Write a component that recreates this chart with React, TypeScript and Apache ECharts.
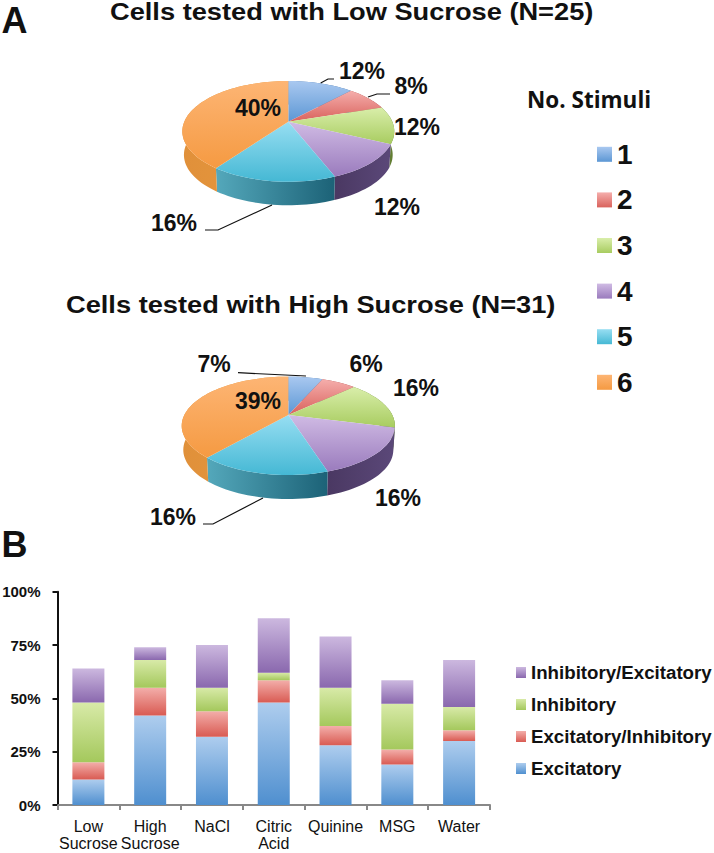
import React, { useEffect, useRef } from "react";
import * as echarts from "echarts";

const FONT = '"Liberation Sans", Arial, sans-serif';

// Pie data (percent of cells per number of stimuli)
const stimuliNames = ["1", "2", "3", "4", "5", "6"];
const lowSucrosePct = [12, 8, 12, 12, 16, 40];
const highSucrosePct = [6.45, 6.45, 16.13, 16.13, 16.13, 38.71];
const lowSucroseLabels = ["12%", "8%", "12%", "12%", "16%", "40%"];
const highSucroseLabels = ["7%", "6%", "16%", "16%", "16%", "39%"];

// Bar data
const categories = ["Low\nSucrose", "High\nSucrose", "NaCl", "Citric\nAcid", "Quinine", "MSG", "Water"];
const excitatory = [12, 42, 32, 48, 28, 19, 30];
const excitatoryInhibitory = [8, 13, 12, 10.5, 9, 7, 5];
const inhibitory = [28, 13, 11, 3.5, 18, 21.5, 11];
const inhibitoryExcitatory = [16, 6, 20, 25.5, 24, 11, 22];
const yTicks = [0, 25, 50, 75, 100];

// Slice colours: [top-face upper, top-face lower, side left, side right]
const sliceColors = [
  ["#a9c8f0", "#5c97d4", "#4f7fb5", "#3f6c9f"],
  ["#f5aeac", "#d9625c", "#b04a45", "#9c3f3b"],
  ["#d9eeaa", "#a8cc60", "#6f8a3a", "#5f7a32"],
  ["#d0bbe4", "#9a7bbd", "#4a3862", "#5b4879"],
  ["#97def2", "#45b8d4", "#54a8bb", "#1c6277"],
  ["#fdb574", "#f59a42", "#e0903a", "#e89a3e"],
];

// Projection geometry of the two perspective pies
const pies = [
  { cx: 288.3, cy: 121.7, a: 104, b: 48.5, k: 0.192, depth: 23.5 },
  { cx: 288.3, cy: 415, a: 104, b: 46.8, k: 0.22, depth: 24 },
];
const lowerScale = 0.985;

const project = (pie: any, theta: number, drop = 0, sx = 1) => {
  const x = Math.sin(theta);
  const y = -Math.cos(theta);
  const w = 1 - pie.k * y;
  return [pie.cx + (sx * pie.a * x) / w, pie.cy + (pie.b * y) / w + drop];
};

const toTheta = (pct: number) => (pct / 100) * Math.PI * 2;

const renderSlice = (seriesIndex: number) => (_params: any, api: any) => {
  const pie = pies[api.value(0)];
  const start = toTheta(api.value(1));
  const end = toTheta(api.value(1) + api.value(2));
  const steps = Math.max(4, Math.ceil((end - start) / 0.04));
  const arc: number[][] = [];
  const lower: number[][] = [];
  for (let i = 0; i <= steps; i++) {
    const t = start + ((end - start) * i) / steps;
    arc.push(project(pie, t));
    lower.push(project(pie, t, pie.depth, lowerScale));
  }
  const c = sliceColors[seriesIndex];
  return {
    type: "group",
    children: [
      {
        type: "polygon",
        z2: 1,
        shape: { points: [...arc, ...lower.slice().reverse()] },
        style: {
          fill: new echarts.graphic.LinearGradient(0, 0, 1, 0, [
            { offset: 0, color: c[2] },
            { offset: 1, color: c[3] },
          ]),
        },
      },
      {
        type: "polygon",
        z2: 5,
        shape: { points: [[pie.cx, pie.cy], ...arc] },
        style: {
          fill: new echarts.graphic.LinearGradient(0, 0, 0, 1, [
            { offset: 0, color: c[0] },
            { offset: 1, color: c[1] },
          ]),
        },
      },
    ],
  };
};

const cumulative = (values: number[], idx: number) =>
  values.slice(0, idx).reduce((s, v) => s + v, 0);

function vGrad(top: string, bottom: string) {
  return new echarts.graphic.LinearGradient(0, 0, 0, 1, [
    { offset: 0, color: top },
    { offset: 1, color: bottom },
  ]);
}

const pieSeries = stimuliNames.map((name, i) => ({
  type: "custom",
  name,
  coordinateSystem: "none",
  silent: true,
  renderItem: renderSlice(i),
  itemStyle: { color: vGrad(sliceColors[i][0], sliceColors[i][1]) },
  data: [
    [0, cumulative(lowSucrosePct, i), lowSucrosePct[i]],
    [1, cumulative(highSucrosePct, i), highSucrosePct[i]],
  ],
}));

const barSeries = [
  { name: "Excitatory", data: excitatory, top: "#aecdee", bottom: "#4f8fcf" },
  { name: "Excitatory/Inhibitory", data: excitatoryInhibitory, top: "#f3aeaa", bottom: "#d95b53" },
  { name: "Inhibitory", data: inhibitory, top: "#d8eaa8", bottom: "#a4c85c" },
  { name: "Inhibitory/Excitatory", data: inhibitoryExcitatory, top: "#ccb8df", bottom: "#8a68ae" },
].map((s) => ({
  type: "bar",
  name: s.name,
  stack: "total",
  barWidth: 32,
  silent: true,
  data: s.data,
  itemStyle: { color: vGrad(s.top, s.bottom) },
}));

const pctText = (text: string, cx: number, cy: number) => ({
  type: "text",
  x: cx,
  y: cy,
  z: 20,
  style: {
    text,
    fill: "#111",
    font: `bold 23px ${FONT}`,
    align: "center",
    verticalAlign: "middle",
  },
});

const titleText = (text: string, x: number, y: number) => ({
  type: "text",
  x,
  y,
  scaleX: 1.135,
  z: 20,
  style: {
    text,
    fill: "#111",
    font: `bold 24px ${FONT}`,
    align: "left",
    verticalAlign: "middle",
  },
});

const leader = (points: number[][]) => ({
  type: "polyline",
  z: 20,
  shape: { points },
  style: { stroke: "#111", lineWidth: 1.2, fill: "none" },
});

const option: any = {
  animation: false,
  backgroundColor: "#fff",
  title: [
    { text: "A", left: -3.5, top: -3, textStyle: { fontFamily: FONT, fontWeight: "bold", fontSize: 36, color: "#111" } },
    { text: "B", left: -3.5, top: 521, textStyle: { fontFamily: FONT, fontWeight: "bold", fontSize: 36, color: "#111" } },
    { text: "No. Stimuli", left: 522, top: 83, textStyle: { fontFamily: '"Open Sans", sans-serif', fontWeight: "bold", fontSize: 22.5, color: "#111" } },
  ],
  grid: { left: 57.5, right: 224, top: 591.7, bottom: 48, containLabel: false, outerBoundsMode: "none" },
  xAxis: {
    type: "category",
    data: categories,
    axisLine: { lineStyle: { color: "#888", width: 2 } },
    axisTick: { show: true, length: 5, alignWithLabel: false, lineStyle: { color: "#888", width: 2 } },
    axisLabel: { color: "#111", fontFamily: FONT, fontSize: 16, margin: 13, lineHeight: 17, interval: 0, hideOverlap: false },
  },
  yAxis: {
    type: "value",
    min: yTicks[0],
    max: yTicks[yTicks.length - 1],
    interval: 25,
    splitLine: { show: false },
    axisLine: { show: true, lineStyle: { color: "#111", width: 2 } },
    axisTick: { show: true, length: 5, lineStyle: { color: "#111", width: 2 } },
    axisLabel: { color: "#111", fontFamily: FONT, fontWeight: "bold", fontSize: 15, margin: 17, formatter: "{value}%" },
  },
  legend: [
    {
      data: stimuliNames,
      orient: "vertical",
      left: 592,
      top: 133,
      itemWidth: 15,
      itemHeight: 15,
      itemGap: 13,
      selectedMode: false,
      icon: "rect",
      textStyle: { fontFamily: FONT, fontWeight: "bold", fontSize: 28, color: "#111", lineHeight: 32.6 },
    },
    {
      data: barSeries.map((s) => s.name).reverse(),
      orient: "vertical",
      left: 511,
      top: 656.5,
      itemWidth: 10,
      itemHeight: 11,
      itemGap: 10,
      selectedMode: false,
      icon: "rect",
      textStyle: { fontFamily: FONT, fontWeight: "bold", fontSize: 18.7, color: "#111", lineHeight: 22 },
    },
  ],
  series: [...pieSeries, ...barSeries],
  graphic: [
    titleText("Cells tested with Low Sucrose (N=25)", 110, 12),
    titleText("Cells tested with High Sucrose (N=31)", 66, 305),
    ...[
      [362, 71], [411, 86], [417, 127], [397, 207], [174, 223], [258, 108],
    ].map((p, i) => pctText(lowSucroseLabels[i], p[0], p[1])),
    ...[
      [214, 364], [366, 364], [416, 388], [398, 498], [173, 517], [258, 401],
    ].map((p, i) => pctText(highSucroseLabels[i], p[0], p[1])),
    leader([[320.7, 83], [328, 79], [334, 79]]),
    leader([[368, 97], [377, 94], [390, 94]]),
    leader([[272, 205], [218, 230], [205, 230]]),
    leader([[306, 376], [238, 372.7]]),
    leader([[263, 498], [213, 524], [203, 524]]),
  ],
};

export default function App() {
  const ref = useRef<HTMLDivElement>(null);
  useEffect(() => {
    const chart = echarts.init(ref.current!, undefined, { renderer: "svg" });
    chart.setOption(option);
    return () => chart.dispose();
  }, []);
  return <div ref={ref} style={{ position: "absolute", left: 0, top: 0, width: 714, height: 853 }} />;
}
